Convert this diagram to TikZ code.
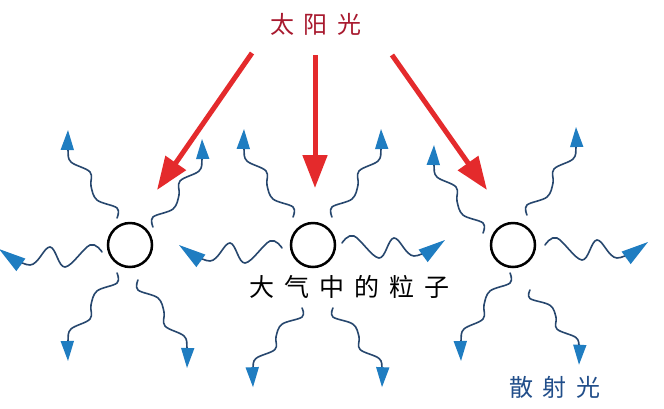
\documentclass[tikz,border=0pt]{standalone}
\usepackage{fontspec}
\newfontfamily\cjkfont[LetterSpace=40]{Noto Sans CJK SC}
\usetikzlibrary{arrows.meta,calc}

\definecolor{sunred}{HTML}{E42A2C}
\definecolor{titlered}{HTML}{A8192E}
\definecolor{raydark}{HTML}{27476E}
\definecolor{rayblue}{HTML}{1F7DC1}
\definecolor{scatterblue}{HTML}{214E8A}

\tikzset{
	particle/.style={circle, draw=black, line width=2.5pt, minimum size=44pt, inner sep=0pt},
	sunray/.style={draw=sunred, line width=5pt, -{Triangle[length=33pt,width=24pt]}},
	ray/.style={draw=raydark, line width=1.6pt, line cap=round,
		-{Triangle[length=20pt,width=13pt,color=rayblue]}},
	bigray/.style={ray, -{Triangle[length=27pt,width=15pt,color=rayblue]}},
	pics/wave/.style={code={
		\draw[ray] plot[smooth,tension=.6] coordinates {(0,0) (0,-10) (-20,-18) (-26,-32) (-27,-46) (-46,-56) (-49,-68) (-49,-88)};
	}},
	pics/hwave/.style={code={
		\draw[bigray] plot[smooth,tension=.6] coordinates {(0,0) (12,-7) (37,15) (52,-5) (72,13) (103,-3)};
	}}
}

\begin{document}
\begin{tikzpicture}[x=1pt,y=-1pt]
	\useasboundingbox[fill=white] (0,0) rectangle (664,408);
	
	\node [text=titlered, font=\cjkfont\fontsize{24}{24}\selectfont] (sun) at (316,24) {太阳光};
	
	\node [particle] (p1) at (130,245) {};
	\node [particle] (p2) at (313,245) {};
	\node [particle] (p3) at (513,245) {};
	
	\node [font=\cjkfont\fontsize{25}{25}\selectfont] (air) at (349,287) {大气中的粒子};
	\node [text=scatterblue, font=\cjkfont\fontsize{24}{24}\selectfont] (scatter) at (555,387) {散射光};
	
	% sunlight
	\coordinate (s1) at (252,53);	\coordinate (t1) at (157,190);
	\coordinate (s2) at (315,55);	\coordinate (t2) at (315,188);
	\coordinate (s3) at (392,55);	\coordinate (t3) at (487,190);
	\draw [sunray] (s1) -- (t1);
	\draw [sunray] (s2) -- (t2);
	\draw [sunray] (s3) -- (t3);
	
	% scattered light
	\pic at ($(p1)+(-13,-27)$) {wave};
	\pic [xscale=-1] at ($(p1)+(23,-18)$) {wave};
	\pic [xscale=-1] at ($(p1)+(-28,7)$) {hwave};
	\pic [yscale=-1] at ($(p1)+(-13,28)$) {wave};
	\pic [xscale=-1,yscale=-1] at ($(p1)+(8,35)$) {wave};
	
	\pic at ($(p2)+(-20,-28)$) {wave};
	\pic [xscale=-1] at ($(p2)+(19,-28)$) {wave};
	\pic [xscale=-1] at ($(p2)+(-31,3)$) {hwave};
	\pic at ($(p2)+(29,-2)$) {hwave};
	\pic [yscale=-.9] at ($(p2)+(-11,63)$) {wave};
	\pic [xscale=-1,yscale=-.9] at ($(p2)+(20,63)$) {wave};
	
	\pic at ($(p3)+(-30,-12)$) {wave};
	\pic [xscale=-1] at ($(p3)+(14,-30)$) {wave};
	\pic at ($(p3)+(32,0)$) {hwave};
	\pic [yscale=-1] at ($(p3)+(-3,28)$) {wave};
	\pic [xscale=-1,yscale=-.85] at ($(p3)+(17,45)$) {wave};
	
\end{tikzpicture}
\end{document}
